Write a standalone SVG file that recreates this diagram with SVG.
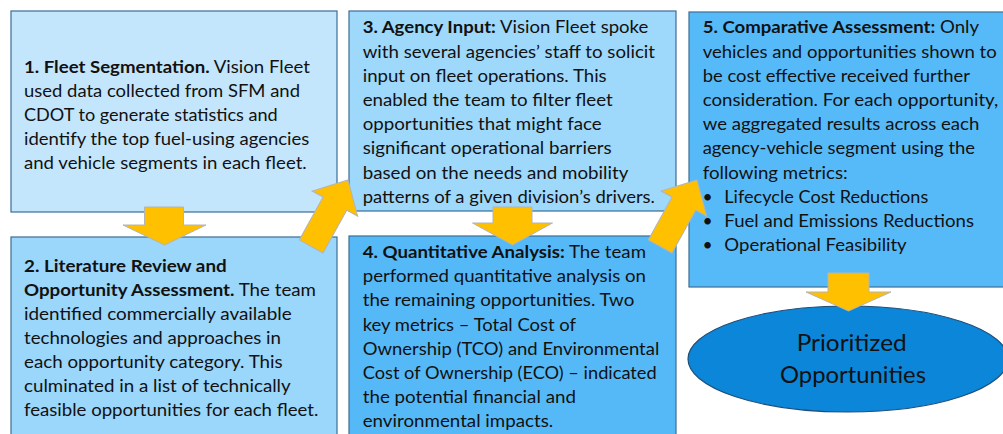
<svg xmlns="http://www.w3.org/2000/svg" width="1003" height="434" viewBox="0 0 1003 434">
<style>
.box{stroke:#3B6E96;stroke-width:1.2}
.t{font-family:Lato,"Liberation Sans",sans-serif;font-size:17.5px;fill:#111}
.b{font-weight:bold}
.arr{fill:#FFC000;stroke:#B4B4B4;stroke-width:1}
.big{font-family:Lato,"Liberation Sans",sans-serif;font-size:24px;fill:#111;text-anchor:middle}
</style>
<defs>
<path id="diag" d="M0,0 L26,27 L13.5,27 L13.5,76 L-13.5,76 L-13.5,27 L-26,27 Z"/>
</defs>
<rect width="1003" height="434" fill="#fff"/>
<g id="node1">
<rect class="box" x="11" y="11" width="326" height="201" fill="#C4E6FC"/>
<text class="t" x="24" y="72.5" textLength="286" lengthAdjust="spacingAndGlyphs"><tspan class="b">1. Fleet Segmentation.</tspan> Vision Fleet</text>
<text class="t" x="24" y="96.7" textLength="276" lengthAdjust="spacingAndGlyphs">used data collected from SFM and</text>
<text class="t" x="24" y="120.9" textLength="253.7" lengthAdjust="spacingAndGlyphs">CDOT to generate statistics and</text>
<text class="t" x="24" y="145.1" textLength="285.3" lengthAdjust="spacingAndGlyphs">identify the top fuel-using agencies</text>
<text class="t" x="24" y="169.3" textLength="282.7" lengthAdjust="spacingAndGlyphs">and vehicle segments in each fleet.</text>
</g>
<g id="node2">
<rect class="box" x="11" y="237" width="326" height="210" fill="#9BD6FB"/>
<text class="t b" x="24" y="271.7" textLength="202.7" lengthAdjust="spacingAndGlyphs">2. Literature Review and</text>
<text class="t" x="24" y="295.8" textLength="292" lengthAdjust="spacingAndGlyphs"><tspan class="b">Opportunity Assessment.</tspan> The team</text>
<text class="t" x="24" y="319.9" textLength="267.7" lengthAdjust="spacingAndGlyphs">identified commercially available</text>
<text class="t" x="24" y="344" textLength="257" lengthAdjust="spacingAndGlyphs">technologies and approaches in</text>
<text class="t" x="24" y="368.1" textLength="258.7" lengthAdjust="spacingAndGlyphs">each opportunity category. This</text>
<text class="t" x="24" y="392.2" textLength="266.7" lengthAdjust="spacingAndGlyphs">culminated in a list of technically</text>
<text class="t" x="24" y="416.4" textLength="294.3" lengthAdjust="spacingAndGlyphs">feasible opportunities for each fleet.</text>
</g>
<g id="node3">
<rect class="box" x="349" y="11" width="327" height="200" fill="#9ED8FB"/>
<text class="t" x="362.7" y="33.3" textLength="285.6" lengthAdjust="spacingAndGlyphs"><tspan class="b">3. Agency Input:</tspan> Vision Fleet spoke</text>
<text class="t" x="362.7" y="57.5" textLength="292.3" lengthAdjust="spacingAndGlyphs">with several agencies’ staff to solicit</text>
<text class="t" x="362.7" y="81.7" textLength="244" lengthAdjust="spacingAndGlyphs">input on fleet operations. This</text>
<text class="t" x="362.7" y="105.9" textLength="250" lengthAdjust="spacingAndGlyphs">enabled the team to filter fleet</text>
<text class="t" x="362.7" y="130.1" textLength="239" lengthAdjust="spacingAndGlyphs">opportunities that might face</text>
<text class="t" x="362.7" y="154.3" textLength="249" lengthAdjust="spacingAndGlyphs">significant operational barriers</text>
<text class="t" x="362.7" y="178.5" textLength="265.6" lengthAdjust="spacingAndGlyphs">based on the needs and mobility</text>
<text class="t" x="362.7" y="202.7" textLength="292.3" lengthAdjust="spacingAndGlyphs">patterns of a given division’s drivers.</text>
</g>
<g id="node4">
<rect class="box" x="349" y="236" width="327" height="210" fill="#55B9F8"/>
<text class="t" x="362.7" y="258.3" textLength="283.3" lengthAdjust="spacingAndGlyphs"><tspan class="b">4. Quantitative Analysis:</tspan> The team</text>
<text class="t" x="362.7" y="282.4" textLength="283.3" lengthAdjust="spacingAndGlyphs">performed quantitative analysis on</text>
<text class="t" x="362.7" y="306.4" textLength="271.6" lengthAdjust="spacingAndGlyphs">the remaining opportunities. Two</text>
<text class="t" x="362.7" y="330.5" textLength="213.3" lengthAdjust="spacingAndGlyphs">key metrics – Total Cost of</text>
<text class="t" x="362.7" y="354.5" textLength="296.6" lengthAdjust="spacingAndGlyphs">Ownership (TCO) and Environmental</text>
<text class="t" x="362.7" y="378.6" textLength="294" lengthAdjust="spacingAndGlyphs">Cost of Ownership (ECO) – indicated</text>
<text class="t" x="362.7" y="402.6" textLength="213.3" lengthAdjust="spacingAndGlyphs">the potential financial and</text>
<text class="t" x="362.7" y="426.7" textLength="190.6" lengthAdjust="spacingAndGlyphs">environmental impacts.</text>
</g>
<g id="node5">
<rect class="box" x="689" y="12" width="330" height="275" fill="#57BAF8"/>
<text class="t" x="702.7" y="33.3" textLength="276.3" lengthAdjust="spacingAndGlyphs"><tspan class="b">5. Comparative Assessment:</tspan> Only</text>
<text class="t" x="702.7" y="57.5" textLength="294" lengthAdjust="spacingAndGlyphs">vehicles and opportunities shown to</text>
<text class="t" x="702.7" y="81.7" textLength="267.3" lengthAdjust="spacingAndGlyphs">be cost effective received further</text>
<text class="t" x="702.7" y="105.9" textLength="295.6" lengthAdjust="spacingAndGlyphs">consideration. For each opportunity,</text>
<text class="t" x="702.7" y="130.1" textLength="276.6" lengthAdjust="spacingAndGlyphs">we aggregated results across each</text>
<text class="t" x="702.7" y="154.3" textLength="272.3" lengthAdjust="spacingAndGlyphs">agency-vehicle segment using the</text>
<text class="t" x="702.7" y="178.5" textLength="145" lengthAdjust="spacingAndGlyphs">following metrics:</text>
<text class="t" x="702.5" y="202.7">•</text>
<text class="t" x="724.3" y="202.7" textLength="204" lengthAdjust="spacingAndGlyphs">Lifecycle Cost Reductions</text>
<text class="t" x="702.5" y="226.9">•</text>
<text class="t" x="724.3" y="226.9" textLength="249.7" lengthAdjust="spacingAndGlyphs">Fuel and Emissions Reductions</text>
<text class="t" x="702.5" y="251.1">•</text>
<text class="t" x="724.3" y="251.1" textLength="182.4" lengthAdjust="spacingAndGlyphs">Operational Feasibility</text>
</g>
<g id="node6">
<ellipse cx="848" cy="359" rx="160" ry="53" fill="#0B86D8" stroke="#1F4E79" stroke-width="1.2"/>
<text class="big" x="851.7" y="350.7" textLength="110" lengthAdjust="spacingAndGlyphs">Prioritized</text>
<text class="big" x="853" y="383.3" textLength="146" lengthAdjust="spacingAndGlyphs">Opportunities</text>
</g>
<g id="connectors">
<path class="arr" d="M144.5,207 L183.5,207 L183.5,225 L206,225 L164.5,245 L123,225 L144.5,225 Z"/>
<path class="arr" d="M493,207 L532,207 L532,223 L552.5,223 L512.5,245 L472.5,223 L493,223 Z"/>
<path class="arr" d="M828,273 L869,273 L869,292 L891,292 L848.5,311 L806,292 L828,292 Z"/>
<use class="arr" href="#diag" transform="translate(348,180) rotate(29)"/>
<use class="arr" href="#diag" transform="translate(697,180) rotate(29)"/>
</g>
</svg>
